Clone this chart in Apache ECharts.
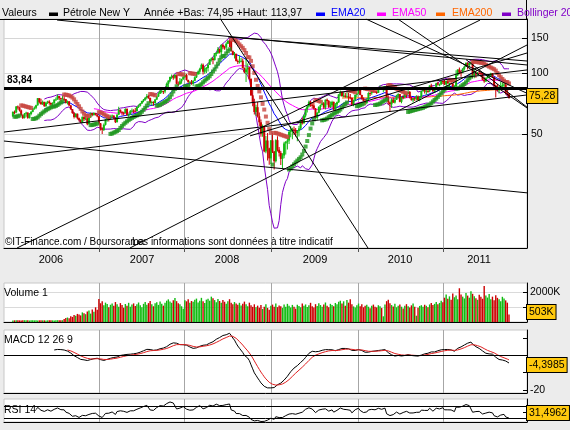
<!DOCTYPE html>
<html>
<head>
<meta charset="utf-8">
<script src="https://cdn.jsdelivr.net/npm/echarts@6/dist/echarts.min.js"></script>
<style>
  html, body { margin: 0; padding: 0; background: #ececec; }
  #chart { width: 570px; height: 430px; }
</style>
</head>
<body>
<div id="chart"></div>
<script>
// weekly bars, first week of 2006 -> first week of Oct 2011
const firstOpen = 61.0
const closes = [
  // 2006
  64.21, 63.92, 68.35, 67.76, 65.37, 61.84, 59.88, 62.91, 63.67, 59.96,
  62.69, 64.26, 66.63, 67.39, 69.32, 75.17, 71.88, 70.19, 72.04, 68.53,
  71.37, 72.33, 71.14, 69.89, 70.87, 73.93, 74.09, 77.03, 75.25, 74.54,
  74.76, 74.35, 71.14, 72.51, 69.20, 66.25, 63.33, 60.55, 62.91, 59.76,
  58.57, 56.82, 60.75, 59.14, 59.61, 55.81, 60.32, 63.43, 62.03, 63.43,
  62.41, 61.05,
  // 2007
  56.31, 52.99, 52.24, 55.42, 59.02, 59.89, 59.39, 61.14, 61.64, 60.05,
  57.11, 62.28, 65.87, 64.28, 63.63, 63.38, 66.46, 61.93, 62.37, 64.94,
  65.20, 65.08, 64.76, 68.00, 68.97, 70.68, 72.81, 73.93, 75.57, 77.02,
  75.48, 71.47, 71.98, 71.09, 74.04, 76.70, 79.10, 81.62, 81.66, 81.22,
  83.69, 88.60, 91.86, 95.93, 96.32, 95.10, 98.18, 88.71, 88.28, 91.27,
  93.31, 96.00,
  // 2008
  97.91, 92.69, 90.57, 90.71, 88.96, 91.77, 95.50, 98.81, 101.84, 105.15,
  110.21, 101.84, 105.62, 106.23, 110.14, 116.69, 118.52, 116.32, 125.96, 126.29,
  132.19, 127.35, 138.54, 134.86, 134.62, 140.21, 145.29, 145.08, 128.88, 123.26,
  125.10, 115.20, 113.77, 114.59, 115.46, 106.23, 101.18, 104.55, 106.89, 93.88,
  77.70, 71.85, 64.15, 67.81, 61.04, 57.04, 49.93, 54.43, 40.81, 46.28,
  42.36, 37.71,
  // 2009
  46.34, 40.83, 36.51, 46.47, 41.68, 40.17, 37.51, 38.94, 44.76, 45.52,
  46.25, 51.06, 52.38, 52.51, 52.24, 50.33, 51.55, 53.20, 58.63, 56.34,
  61.67, 66.31, 68.44, 72.04, 69.55, 69.16, 66.73, 59.89, 63.56, 68.05,
  69.45, 70.93, 67.51, 73.89, 72.74, 68.02, 69.29, 72.04, 66.02, 69.95,
  71.77, 78.53, 80.50, 77.00, 77.43, 76.35, 76.72, 76.05, 75.47, 69.87,
  73.36, 78.05,
  // 2010
  79.36, 82.75, 78.00, 74.54, 72.89, 71.19, 74.13, 79.81, 79.66, 81.50,
  81.24, 80.68, 80.00, 84.87, 84.92, 83.24, 85.12, 86.15, 75.11, 71.61,
  70.04, 73.97, 71.51, 73.78, 77.18, 78.86, 72.14, 76.09, 76.01, 78.98,
  78.95, 80.70, 75.39, 73.46, 75.17, 74.60, 76.45, 73.66, 76.49, 81.58,
  82.66, 81.25, 81.69, 81.43, 86.85, 84.88, 81.51, 83.76, 89.19, 87.79,
  88.02, 91.51, 91.38,
  // 2011
  88.03, 91.54, 89.11, 89.34, 89.03, 85.58, 86.20, 97.88, 104.42, 101.16,
  101.07, 105.40, 107.94, 112.79, 109.66, 112.29, 113.93, 97.18, 99.65, 99.49,
  100.59, 100.22, 99.29, 93.01, 91.16, 94.94, 96.20, 97.24, 99.87, 95.70,
  86.88, 85.38, 82.26, 85.37, 86.45, 87.24, 87.96, 79.85, 79.20, 75.28
]
const highs = [
  64.8, 65.2, 68.8, 69.2, 68.0, 66.0, 62.5, 63.4, 64.3, 64.0,
  63.5, 64.9, 67.2, 68.3, 69.8, 75.4, 75.2, 74.6, 73.1, 72.1,
  72.2, 73.0, 73.4, 71.6, 71.7, 74.2, 75.8, 78.4, 77.1, 75.6,
  77.2, 77.0, 74.5, 73.1, 72.8, 69.6, 66.5, 64.1, 63.3, 63.0,
  60.2, 59.0, 61.0, 60.8, 61.4, 60.2, 60.6, 63.8, 63.6, 64.0,
  63.7, 62.6,
  61.4, 56.5, 53.8, 56.3, 59.3, 60.8, 60.6, 61.7, 62.4, 61.7,
  60.1, 62.6, 68.1, 66.1, 64.7, 64.3, 66.9, 66.9, 63.1, 65.7,
  66.8, 66.3, 67.1, 68.3, 69.9, 70.9, 73.0, 74.4, 76.0, 78.8,
  78.3, 75.6, 72.9, 72.5, 74.4, 77.4, 80.4, 84.1, 83.8, 81.9,
  84.0, 90.1, 92.2, 96.2, 98.6, 98.0, 99.3, 98.2, 90.9, 94.7,
  93.8, 97.2,
  100.1, 99.4, 92.9, 91.4, 92.6, 92.2, 96.7, 101.3, 103.1, 106.5,
  111.8, 111.8, 108.0, 107.4, 112.2, 117.8, 119.9, 119.9, 126.2, 127.8,
  135.1, 132.9, 139.1, 139.9, 137.3, 142.9, 145.9, 147.3, 145.2, 129.8,
  127.8, 125.2, 117.1, 122.5, 119.1, 118.3, 106.9, 120.0, 112.0, 107.5,
  94.1, 84.3, 74.6, 69.8, 71.9, 63.8, 58.8, 55.6, 55.0, 48.8,
  50.5, 42.6,
  46.5, 50.5, 41.0, 47.0, 48.6, 43.0, 41.0, 40.0, 45.6, 46.0,
  47.9, 52.2, 54.7, 53.6, 54.4, 53.4, 52.0, 54.7, 58.8, 60.1,
  62.3, 66.7, 69.1, 73.2, 72.8, 71.8, 73.4, 67.2, 64.2, 68.5,
  69.9, 73.4, 71.9, 74.0, 75.0, 73.7, 72.4, 73.0, 72.3, 71.2,
  72.4, 78.7, 82.0, 81.3, 80.5, 80.1, 80.5, 79.8, 78.9, 75.5,
  74.1, 78.4,
  79.9, 83.9, 82.9, 78.3, 75.8, 74.5, 75.0, 80.5, 80.5, 81.9,
  82.5, 83.2, 82.4, 85.0, 87.1, 85.8, 86.2, 86.5, 87.2, 77.8,
  72.3, 75.2, 75.6, 75.3, 78.1, 79.5, 78.9, 76.4, 78.0, 79.5,
  79.4, 82.9, 81.7, 76.5, 75.4, 76.0, 77.8, 77.6, 76.8, 81.9,
  84.4, 83.7, 83.6, 83.9, 87.3, 88.6, 85.2, 84.6, 89.6, 90.8,
  89.0, 91.9, 91.9,
  92.6, 92.0, 92.6, 89.9, 92.2, 89.4, 87.3, 103.4, 104.8, 106.9,
  103.4, 106.0, 108.5, 113.0, 113.0, 112.5, 114.0, 114.0, 104.6, 102.6,
  101.4, 103.4, 102.4, 101.4, 96.1, 95.3, 98.7, 98.1, 100.6, 100.3,
  95.7, 87.8, 88.4, 86.7, 90.5, 89.7, 90.5, 88.6, 84.9, 79.6
]
const lows = [
  60.8, 62.6, 63.3, 66.0, 64.6, 61.4, 59.2, 59.5, 60.8, 59.4,
  59.5, 61.8, 63.9, 65.8, 66.3, 69.0, 70.7, 69.8, 69.6, 68.1,
  68.2, 70.3, 69.8, 68.3, 68.8, 70.6, 73.2, 73.9, 73.6, 72.5,
  74.2, 72.3, 70.8, 70.0, 68.8, 65.8, 62.9, 59.5, 60.2, 58.8,
  57.5, 56.5, 56.4, 57.8, 58.3, 55.2, 55.6, 60.0, 61.2, 61.5,
  61.7, 60.4,
  55.6, 51.9, 49.9, 51.6, 55.0, 57.3, 57.5, 58.9, 60.3, 59.2,
  56.5, 56.9, 62.0, 63.7, 61.9, 61.6, 63.0, 61.5, 60.8, 62.2,
  63.9, 63.3, 64.3, 64.6, 67.1, 68.4, 70.3, 71.8, 73.0, 74.2,
  74.7, 70.9, 69.2, 69.0, 70.8, 73.6, 76.3, 78.9, 79.6, 78.8,
  79.6, 83.5, 84.9, 90.2, 94.0, 92.9, 93.8, 88.0, 86.1, 87.6,
  88.8, 92.8,
  94.7, 92.0, 89.0, 86.1, 87.7, 86.1, 91.9, 94.7, 98.3, 98.8,
  104.6, 98.7, 99.6, 100.4, 102.0, 110.3, 114.5, 111.0, 115.8, 121.5,
  124.8, 125.6, 122.0, 131.6, 131.0, 131.6, 139.8, 135.0, 128.2, 122.9,
  118.6, 114.6, 111.3, 112.0, 113.6, 105.5, 100.1, 90.5, 98.6, 92.4,
  77.0, 68.6, 62.3, 61.3, 60.2, 54.7, 48.3, 48.3, 40.5, 40.0,
  36.8, 35.1,
  35.4, 40.1, 33.2, 36.0, 40.8, 38.5, 35.0, 33.6, 37.8, 39.4,
  41.8, 44.5, 48.0, 46.9, 49.4, 48.4, 45.9, 48.4, 52.4, 55.6,
  56.2, 60.3, 63.8, 67.5, 68.2, 66.8, 66.1, 59.6, 58.3, 63.3,
  65.5, 69.3, 66.4, 66.0, 69.8, 67.1, 67.2, 68.0, 65.0, 65.1,
  67.8, 71.1, 76.9, 76.5, 76.0, 75.6, 76.0, 72.4, 74.3, 69.5,
  68.6, 72.8,
  76.1, 79.1, 77.7, 73.8, 72.4, 69.5, 70.2, 73.5, 77.1, 78.1,
  80.0, 79.8, 78.9, 79.8, 84.1, 83.0, 80.5, 81.8, 74.6, 69.9,
  64.2, 67.1, 71.1, 70.8, 73.6, 75.1, 71.7, 71.0, 74.3, 75.0,
  75.5, 78.8, 74.8, 73.1, 71.6, 72.8, 73.2, 72.8, 72.6, 75.3,
  80.9, 79.4, 78.2, 80.1, 80.5, 84.1, 80.6, 80.0, 82.7, 87.0,
  86.3, 87.6, 88.4,
  87.5, 87.4, 88.8, 85.1, 88.6, 84.7, 83.9, 85.5, 96.8, 99.0,
  96.0, 100.1, 103.3, 107.7, 104.4, 106.5, 110.5, 94.6, 94.6, 95.0,
  97.4, 98.9, 96.5, 92.4, 89.6, 90.6, 94.3, 94.1, 96.2, 95.0,
  82.9, 75.7, 81.3, 79.4, 85.1, 83.2, 85.1, 78.5, 77.1, 74.95
]
// volume, thousands of contracts
const volumes = [
  100, 110, 110, 120, 110, 100, 110, 120, 110, 110,
  100, 110, 120, 110, 110, 100, 110, 120, 110, 110,
  100, 110, 110, 120, 110, 100, 110, 120, 110, 110,
  120, 200, 260, 300, 250, 380, 340, 470, 420, 540,
  500, 440, 640, 580, 520, 700, 760, 560, 840, 690,
  980, 820,
  1530, 1250, 1380, 1120, 1290, 1200, 980, 1150, 1240, 1080,
  1330, 1190, 1010, 1260, 1140, 950, 1200, 1090, 1280, 1020,
  1160, 1240, 1070, 1190, 1300, 1120, 980, 1210, 1330, 1150,
  1260, 1400, 1180, 1050, 1250, 1310, 1140, 1370, 1220, 1090,
  1290, 1420, 1510, 1360, 1280, 1450, 1600, 1390, 1250, 1180,
  1050, 880,
  1450, 1380, 1520, 1290, 1400, 1350, 1480, 1560, 1300, 1420,
  1610, 1380, 1260, 1490, 1550, 1420, 1690, 1580, 1460, 1320,
  1540, 1400, 1280, 1470, 1350, 1210, 1380, 1520, 1290, 1190,
  1330, 1240, 1150, 1280, 1100, 1220, 1360, 1180, 1050, 1290,
  1120, 1010, 1180, 980, 1090, 950, 1140, 870, 1020, 1180,
  940, 820,
  1080, 1160, 1020, 1230, 990, 1100, 1050, 940, 1170, 1010,
  1210, 1080, 960, 1140, 1020, 890, 1150, 1060, 980, 1230,
  1090, 1170, 1000, 1120, 1280, 1050, 960, 1190, 1070, 1250,
  1130, 1020, 1160, 1300, 1080, 990, 1210, 1140, 1050, 1270,
  1190, 1350, 1420, 1230, 1380, 1080, 1470, 1290, 1520, 1180,
  1040, 960,
  1110, 1230, 1050, 1180, 980, 1090, 1150, 1020, 920, 1080,
  1160, 1010, 970, 1120, 1050, 930, 380, 1170, 1390, 1480,
  1250, 1130, 1040, 1210, 980, 1090, 1160, 1020, 900, 1080,
  1190, 1050, 960, 1110, 1230, 1010, 420, 950, 1070, 1120,
  1020, 1150, 1080, 990, 1170, 1260, 1130, 1210, 1340, 1190,
  1270, 1420, 1310,
  1620, 1840, 1550, 1710, 1480, 1900, 1650, 1760, 1520, 2250,
  1830, 1690, 1570, 1940, 1760, 1620, 2050, 1880, 1710, 1590,
  1480, 1820, 1690, 1550, 2400, 1760, 1630, 1870, 1520, 1690,
  1450, 1780, 1610, 1520, 1390, 1680, 1570, 1440, 1290, 503
]

// x positions are bar indexes; year boundaries and label centres in the same units
const yearStarts = [52.0, 103.9, 156.3, 209.0, 260.4]
const yearMids = [23.0, 78.1, 129.5, 182.7, 234.1, 281.9]
const yearNames = ['2006', '2007', '2008', '2009', '2010', '2011']
const priceTicks = [50, 100, 150]
const levelPrice = 83.84
const macdText = '-4,3985'
const rsiText = '31,4962'
const headerText = 'Année +Bas: 74,95 +Haut: 113,97'

// hand-drawn trend lines, [barIndex, price] endpoints
const trendLines = [
  [[26.7, 184.1], [310.9, 110.0]],
  [[130.1, 151.6], [310.9, 115.1]],
  [[124.0, 195.0], [214.8, 13.47]],
  [[-5.4, 51.0], [310.9, 103.9]],
  [[-5.4, 37.9], [310.9, 78.0]],
  [[-5.4, 46.0], [310.9, 25.4]],
  [[2.5, 13.5], [282.5, 184.1]],
  [[70.8, 13.5], [310.9, 138.3]],
  [[213.5, 186.3], [310.9, 79.5]],
  [[232.8, 186.3], [310.9, 67.2]],
  [[143.4, 48.8], [310.9, 126.2]],
  [[274.0, 117.0], [310.9, 67.8]],
]

const FONT = '"Liberation Sans", Arial, sans-serif'
const UP = '#11bb11'
const DOWN = '#cc0000'
const X_MIN = -5.38
const X_MAX = 310.89

const opens = closes.map((c, i) => (i === 0 ? firstOpen : closes[i - 1]))

// --- indicators -----------------------------------------------------------
function ema(src, n) {
  const out = src.map(() => null)
  const start = src.findIndex(v => v != null)
  if (start < 0 || start + n > src.length) return out
  let sum = 0
  for (let i = start; i < start + n; i++) sum += src[i]
  let prev = sum / n
  out[start + n - 1] = prev
  const k = 2 / (n + 1)
  for (let i = start + n; i < src.length; i++) {
    prev = src[i] * k + prev * (1 - k)
    out[i] = prev
  }
  return out
}

function bollinger(src, n, m) {
  const up = src.map(() => null)
  const dn = src.map(() => null)
  for (let i = n - 1; i < src.length; i++) {
    const w = src.slice(i - n + 1, i + 1)
    const mean = w.reduce((a, b) => a + b, 0) / n
    const sd = Math.sqrt(w.reduce((a, b) => a + (b - mean) * (b - mean), 0) / n)
    up[i] = mean + m * sd
    dn[i] = mean - m * sd
  }
  return [up, dn]
}

function rsi(src, n) {
  const out = src.map(() => null)
  let g = 0, l = 0
  for (let i = 1; i <= n; i++) {
    const d = src[i] - src[i - 1]
    if (d > 0) g += d; else l -= d
  }
  g /= n; l /= n
  out[n] = l === 0 ? 100 : 100 - 100 / (1 + g / l)
  for (let i = n + 1; i < src.length; i++) {
    const d = src[i] - src[i - 1]
    g = (g * (n - 1) + Math.max(d, 0)) / n
    l = (l * (n - 1) + Math.max(-d, 0)) / n
    out[i] = l === 0 ? 100 : 100 - 100 / (1 + g / l)
  }
  return out
}

function parabolicSar(h, l, step, maxAf) {
  const res = []
  let up = closes[1] >= closes[0]
  let af = step
  let ep = up ? h[0] : l[0]
  let s = up ? l[0] : h[0]
  for (let i = 1; i < h.length; i++) {
    s = s + af * (ep - s)
    if (up) {
      s = Math.min(s, l[i - 1], l[Math.max(i - 2, 0)])
      if (l[i] < s) { up = false; s = ep; ep = l[i]; af = step }
      else if (h[i] > ep) { ep = h[i]; af = Math.min(af + step, maxAf) }
    } else {
      s = Math.max(s, h[i - 1], h[Math.max(i - 2, 0)])
      if (h[i] > s) { up = true; s = ep; ep = h[i]; af = step }
      else if (l[i] < ep) { ep = l[i]; af = Math.min(af + step, maxAf) }
    }
    res.push([i, s, up])
  }
  return res
}

const pairs = arr => arr.map((v, i) => (v == null || v <= 0 ? null : [i, v])).filter(Boolean)
const pairsAny = arr => arr.map((v, i) => (v == null ? null : [i, v])).filter(Boolean)

const ema20 = ema(closes, 20)
const ema50 = ema(closes, 50)
const ema200 = ema(closes, 200)
const [bbUp, bbDn] = bollinger(closes, 20, 2)
const ema12 = ema(closes, 12)
const ema26 = ema(closes, 26)
const macd = closes.map((c, i) => (ema12[i] != null && ema26[i] != null ? ema12[i] - ema26[i] : null))
const signal = ema(macd, 9)
const rsi14 = rsi(closes, 14)
const sar = parabolicSar(highs, lows, 0.02, 0.2)

// --- drawing --------------------------------------------------------------
function renderCandle(params, api) {
  const x = api.value(0)
  const o = api.value(1), c = api.value(2), lo = api.value(3), hi = api.value(4)
  const pHi = api.coord([x, hi])
  const pLo = api.coord([x, lo])
  const pO = api.coord([x, o])
  const pC = api.coord([x, c])
  const color = c >= o ? UP : DOWN
  const top = Math.min(pO[1], pC[1])
  const bh = Math.max(Math.abs(pO[1] - pC[1]), 1)
  return {
    type: 'group',
    children: [
      { type: 'rect', shape: { x: pHi[0] - 0.5, y: pHi[1], width: 1, height: pLo[1] - pHi[1] }, style: { fill: color } },
      { type: 'rect', shape: { x: pO[0] - 1, y: top, width: 2, height: bh }, style: { fill: color } },
    ],
  }
}

const grids = [
  { left: 4, top: 19, width: 523, height: 229 },
  { left: 4, top: 283, width: 523, height: 39 },
  { left: 4, top: 330, width: 523, height: 63 },
  { left: 4, top: 399, width: 523, height: 23 },
].map(g => ({ ...g, show: true, backgroundColor: '#fff', borderColor: '#c8c8c8', borderWidth: 1 }))

function xAxis(gridIndex) {
  const main = gridIndex === 0
  return {
    type: 'value',
    gridIndex,
    min: X_MIN,
    max: X_MAX,
    axisLine: { show: true, onZero: false, lineStyle: { color: '#000', width: 1 } },
    axisTick: { show: main, customValues: yearStarts, length: 4, lineStyle: { color: '#555' } },
    axisLabel: {
      show: main,
      customValues: yearMids,
      margin: 6,
      fontSize: 11,
      fontFamily: FONT,
      color: '#000',
      formatter: v => {
        let best = 0
        yearMids.forEach((m, i) => { if (Math.abs(m - v) < Math.abs(yearMids[best] - v)) best = i })
        return yearNames[best]
      },
    },
    splitLine: { show: true, lineStyle: { color: '#a6a6a6', width: 1 } },
  }
}

function yAxis(gridIndex, opts) {
  return Object.assign({
    gridIndex,
    position: 'right',
    axisLine: { show: true, onZero: false, lineStyle: { color: '#000', width: 1 } },
    axisTick: { show: true, inside: true, length: 4, lineStyle: { color: '#000' } },
    axisLabel: { margin: 3, fontSize: 10.5, fontFamily: FONT, color: '#000' },
    splitLine: { show: false },
  }, opts)
}

const thin = (color, width) => ({ color, width: width || 1 })

const series = [
  { type: 'line', xAxisIndex: 0, yAxisIndex: 0, data: pairs(bbUp), symbol: 'none', lineStyle: thin('#8000c8'), z: 2, silent: true },
  { type: 'line', xAxisIndex: 0, yAxisIndex: 0, data: pairs(bbDn), symbol: 'none', lineStyle: thin('#8000c8'), z: 2, silent: true },
  { type: 'line', xAxisIndex: 0, yAxisIndex: 0, data: pairs(ema200), symbol: 'none', lineStyle: thin('#ff6600'), z: 2, silent: true },
  { type: 'line', xAxisIndex: 0, yAxisIndex: 0, data: pairs(ema50), symbol: 'none', lineStyle: thin('#ff00ff'), z: 2, silent: true },
  { type: 'line', xAxisIndex: 0, yAxisIndex: 0, data: pairs(ema20), symbol: 'none', lineStyle: thin('#0000ff'), z: 2, silent: true },
  {
    type: 'custom', xAxisIndex: 0, yAxisIndex: 0, renderItem: renderCandle, clip: true, z: 3, silent: true,
    encode: { x: 0, y: [1, 2, 3, 4] },
    data: closes.map((c, i) => [i, opens[i], c, lows[i], highs[i]]),
  },
  {
    type: 'scatter', xAxisIndex: 0, yAxisIndex: 0, symbol: 'rect', symbolSize: 4, z: 4, silent: true,
    data: sar.filter(d => d[2]).map(d => [d[0], d[1]]), itemStyle: { color: '#1e961e' },
  },
  {
    type: 'scatter', xAxisIndex: 0, yAxisIndex: 0, symbol: 'rect', symbolSize: 4, z: 4, silent: true,
    data: sar.filter(d => !d[2]).map(d => [d[0], d[1]]), itemStyle: { color: '#c84640' },
  },
  ...trendLines.map(pts => ({
    type: 'line', xAxisIndex: 0, yAxisIndex: 0, data: pts, symbol: 'none', clip: true,
    lineStyle: thin('#000'), z: 5, silent: true,
  })),
  {
    type: 'line', xAxisIndex: 0, yAxisIndex: 0, data: [], z: 6, silent: true,
    markLine: {
      silent: true, symbol: 'none', animation: false,
      lineStyle: { color: '#000', width: 3, type: 'solid' },
      label: {
        show: true, position: 'insideStartTop', distance: 3,
        formatter: String(levelPrice).replace('.', ','),
        color: '#000', fontWeight: 'bold', fontSize: 10, fontFamily: FONT,
      },
      data: [{ yAxis: levelPrice }],
    },
  },
  {
    type: 'bar', xAxisIndex: 1, yAxisIndex: 1, barWidth: 1.4, silent: true,
    data: volumes.map((v, i) => ({ value: [i, v], itemStyle: { color: closes[i] >= opens[i] ? UP : DOWN } })),
  },
  {
    type: 'line', xAxisIndex: 2, yAxisIndex: 2, data: pairsAny(macd),
    symbol: 'none', lineStyle: thin('#000'), z: 3, silent: true,
    markLine: {
      silent: true, symbol: 'none', animation: false, label: { show: false },
      lineStyle: { color: '#000', width: 1, type: 'solid' }, data: [{ yAxis: 0 }],
    },
  },
  {
    type: 'line', xAxisIndex: 2, yAxisIndex: 2, data: pairsAny(signal),
    symbol: 'none', lineStyle: thin('#e02020'), z: 4, silent: true,
  },
  {
    type: 'line', xAxisIndex: 3, yAxisIndex: 3, data: pairs(rsi14), symbol: 'none', lineStyle: thin('#000'), z: 3, silent: true,
    markLine: {
      silent: true, symbol: 'none', animation: false, label: { show: false },
      lineStyle: { color: '#000', width: 1, type: 'solid' }, data: [{ yAxis: 70 }, { yAxis: 30 }],
    },
  },
]

const txt = (text, x, y, extra) => ({
  type: 'text', x, y, z: 20, silent: true,
  style: Object.assign({ text, fill: '#000', font: '10.5px ' + FONT, textVerticalAlign: 'middle' }, extra || {}),
})
const swatch = (x, color) => ({ type: 'rect', z: 20, silent: true, shape: { x, y: 12.5, width: 9, height: 3.5 }, style: { fill: color } })
const box = (text, x, y) => ({
  type: 'text', x, y, z: 20, silent: true,
  style: {
    text, fill: '#000', font: '10.5px ' + FONT,
    backgroundColor: '#ffc90e', borderColor: '#000', borderWidth: 1, padding: [2, 2, 1, 2],
  },
})

const lastClose = closes[closes.length - 1]
const lastVolume = volumes[volumes.length - 1]

const graphic = [
  { type: 'line', z: 20, silent: true, shape: { x1: 0, y1: 19.5, x2: 527, y2: 19.5 }, style: { stroke: '#000', lineWidth: 1 } },
  { type: 'line', z: 20, silent: true, shape: { x1: 526.5, y1: 0, x2: 526.5, y2: 19 }, style: { stroke: '#000', lineWidth: 1 } },
  txt('Valeurs', 2, 13.5),
  swatch(49, '#000'),
  txt('Pétrole New Y', 63, 13.5),
  txt(headerText, 144, 13.5),
  swatch(316, '#0000ff'),
  txt('EMA20', 331, 13.5, { fill: '#0000ff' }),
  swatch(377, '#ff00ff'),
  txt('EMA50', 392, 13.5, { fill: '#ff00ff' }),
  swatch(436, '#ff6600'),
  txt('EMA200', 452, 13.5, { fill: '#ff6600' }),
  swatch(502, '#8000c8'),
  txt('Bollinger 20', 517, 13.5, { fill: '#8000c8' }),
  txt('©IT-Finance.com / Boursorama', 5, 242.5, { font: '10px ' + FONT }),
  txt('Les informations sont données à titre indicatif', 132, 242.5, { font: '10px ' + FONT }),
  txt('Volume 1', 4, 293),
  txt('MACD 12 26 9', 4, 340),
  txt('RSI 14', 4, 410),
  box(String(lastClose.toFixed(2)).replace('.', ','), 527, 89),
  box(lastVolume + 'K', 527, 305),
  box(macdText, 527, 358),
  box(rsiText, 527, 406),
]

const chart = echarts.init(document.getElementById('chart'), null, { renderer: 'canvas' })
chart.setOption({
  animation: false,
  backgroundColor: '#ececec',
  grid: grids,
  xAxis: [xAxis(0), xAxis(1), xAxis(2), xAxis(3)],
  yAxis: [
    yAxis(0, {
      type: 'log', logBase: 10, min: 13.5, max: 186.3,
      axisTick: { show: true, inside: true, length: 5, customValues: priceTicks, lineStyle: { color: '#000' } },
      axisLabel: { customValues: priceTicks, margin: 4, fontSize: 10.5, fontFamily: FONT, color: '#000' },
      splitLine: { show: true, lineStyle: { color: '#d6d6d6' } },
    }),
    yAxis(1, {
      type: 'value', min: 0, max: 2600,
      axisTick: { show: true, inside: true, length: 4, customValues: [1000, 2000], lineStyle: { color: '#000' } },
      axisLabel: { customValues: [2000], margin: 3, fontSize: 10.5, fontFamily: FONT, color: '#000', formatter: v => v + 'K' },
      splitLine: { show: true, lineStyle: { color: '#dadada' } },
    }),
    yAxis(2, {
      type: 'value', min: -21.67, max: 14.54,
      axisTick: { show: true, inside: true, length: 4, customValues: [10, 0, -10, -20], lineStyle: { color: '#000' } },
      axisLabel: { customValues: [-20], margin: 3, fontSize: 10.5, fontFamily: FONT, color: '#000' },
    }),
    yAxis(3, {
      type: 'value', min: 19.6, max: 92,
      axisTick: { show: true, inside: true, length: 4, customValues: [70, 50, 30], lineStyle: { color: '#000' } },
      axisLabel: { show: false },
    }),
  ],
  series,
  graphic,
})
</script>
</body>
</html>
